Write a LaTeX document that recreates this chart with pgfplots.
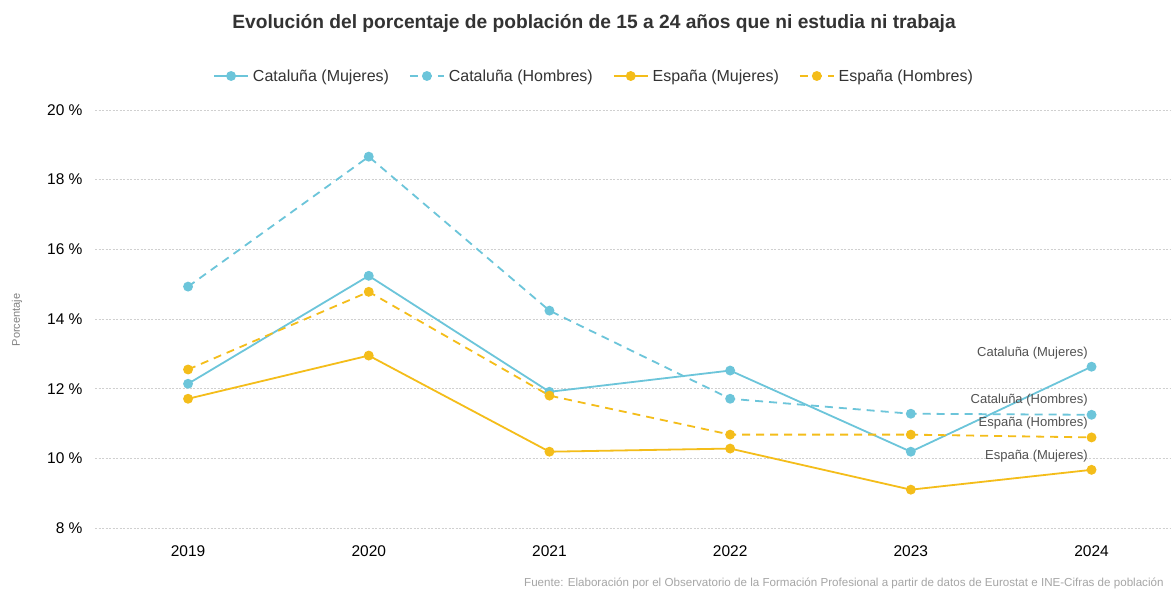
\documentclass[border=0pt]{standalone}
\usepackage{pgfplots}
\pgfplotsset{compat=1.18}
\usepackage{fontspec}
\setmainfont{Liberation Sans}
\definecolor{cat}{HTML}{6CC5DA}
\definecolor{esp}{HTML}{F4BD1A}
\definecolor{txt}{HTML}{333333}
\definecolor{gridc}{HTML}{D0D0D0}
\begin{document}
\begin{tikzpicture}[x=1bp,y=1bp]
\begin{scope}
\clip (0,0) rectangle (1171,589);
\fill[white] (0,0) rectangle (1171,589);
\begin{axis}[
  scale only axis,
  width=1076bp, height=418bp,
  at={(95bp,61bp)}, anchor=south west,
  xmin=2018.485, xmax=2024.44,
  ymin=8, ymax=20,
  axis line style={draw=none},
  major tick length=0pt,
  xtick={2019,2020,2021,2022,2023,2024},
  xticklabels={2019,2020,2021,2022,2023,2024},
  ytick={8,10,12,14,16,18,20},
  yticklabels={8 \%,10 \%,12 \%,14 \%,16 \%,18 \%,20 \%},
  ymajorgrids,
  grid style={gridc, dash pattern=on 2bp off 1.5bp, line width=0.6bp},
  /pgf/number format/assume math mode=true,
  xticklabel style={font=\fontsize{15.5bp}{17bp}\selectfont, text=black, yshift=-14bp},
  yticklabel style={font=\fontsize{15.5bp}{17bp}\selectfont, text=black, xshift=-9bp},
  legend columns=4,
  legend style={at={(0.4638,1.0813)}, anchor=center, draw=none, fill=none,
    font=\fontsize{16bp}{18bp}\selectfont, text=txt,
    /tikz/every odd column/.append style={column sep=2bp},
    /tikz/every even column/.append style={column sep=18bp}},
  legend image code/.code={
    \draw[mark repeat=2, mark phase=2] plot coordinates {(0bp,0bp) (17bp,0bp) (34bp,0bp)};
  },
  clip=false,
]
\addplot[cat, line width=1.8bp, mark=*, mark size=4bp, mark options={solid, fill=cat, draw=cat}]
  coordinates {(2019,12.14) (2020,15.24) (2021,11.91) (2022,12.52) (2023,10.19) (2024,12.63)};
\addlegendentry{Cataluña (Mujeres)}
\addplot[cat, line width=1.8bp, dash pattern=on 8bp off 6bp, mark=*, mark size=4bp, mark options={solid, fill=cat, draw=cat}]
  coordinates {(2019,14.93) (2020,18.66) (2021,14.24) (2022,11.71) (2023,11.28) (2024,11.25)};
\addlegendentry{Cataluña (Hombres)}
\addplot[esp, line width=1.8bp, mark=*, mark size=4bp, mark options={solid, fill=esp, draw=esp}]
  coordinates {(2019,11.71) (2020,12.95) (2021,10.19) (2022,10.28) (2023,9.10) (2024,9.67)};
\addlegendentry{España (Mujeres)}
\addplot[esp, line width=1.8bp, dash pattern=on 8bp off 6bp, mark=*, mark size=4bp, mark options={solid, fill=esp, draw=esp}]
  coordinates {(2019,12.55) (2020,14.78) (2021,11.80) (2022,10.68) (2023,10.68) (2024,10.60)};
\addlegendentry{España (Hombres)}
\begin{scope}[every node/.style={anchor=east, text=txt!85, font=\fontsize{13bp}{15bp}\selectfont, inner sep=0pt}]
\node at (axis cs:2023.98,13.03) {Cataluña (Mujeres)};
\node at (axis cs:2023.98,11.66) {Cataluña (Hombres)};
\node at (axis cs:2023.98,11.00) {España (Hombres)};
\node at (axis cs:2023.98,10.05) {España (Mujeres)};
\end{scope}
\end{axis}
\node[text=txt, font=\bfseries\fontsize{19.2bp}{21bp}\selectfont] at (594,566) {Evolución del porcentaje de población de 15 a 24 años que ni estudia ni trabaja};
\node[rotate=90, text=gray, font=\fontsize{11bp}{13bp}\selectfont] at (17,269) {Porcentaje};
\node[anchor=west, text=gray!70, font=\fontsize{11.6bp}{14bp}\selectfont, inner sep=0pt] at (524,6) {Fuente: Elaboración por el Observatorio de la Formación Profesional a partir de datos de Eurostat e INE-Cifras de población};
\end{scope}
\pgfresetboundingbox
\useasboundingbox (0,0) rectangle (1171,589);
\end{tikzpicture}
\end{document}
